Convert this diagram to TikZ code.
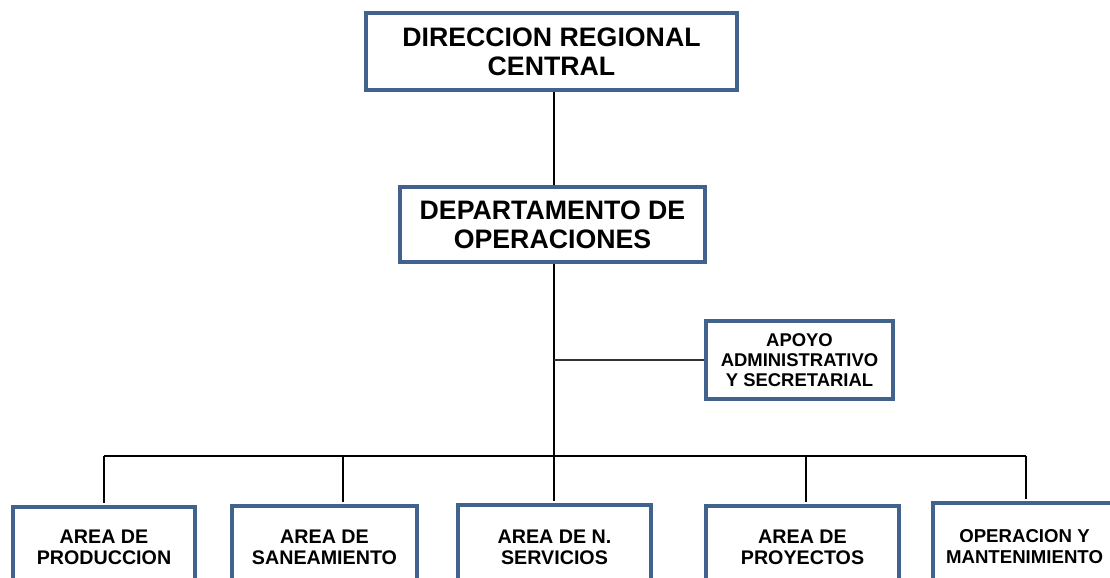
\documentclass[tikz,border=0pt]{standalone}
\usepackage{fontspec}
\setmainfont{Liberation Sans}
\usetikzlibrary{positioning}
\definecolor{boxblue}{RGB}{65,98,140}

\begin{document}
\begin{tikzpicture}[unit/.style={draw=boxblue, line width=2.2pt, fill=white, align=center, inner sep=0pt},
  head/.style={unit, font=\bfseries\fontsize{15.2}{16.5}\selectfont},
  staff/.style={unit, font=\bfseries\fontsize{10.5}{11.4}\selectfont},
  area/.style={unit, font=\bfseries\fontsize{11.2}{12}\selectfont},
  link/.style={line width=0.7pt},
  bus/.style={line width=1.2pt}]
  \clip (0,0) rectangle (22.2,11.56);
  \node[head, minimum width=7.42cm, minimum height=1.54cm] (dir) at (11.03,10.53) {DIRECCION REGIONAL\\CENTRAL};
  \node[head, minimum width=6.1cm, minimum height=1.5cm] (dept) at (11.05,7.07) {DEPARTAMENTO DE\\OPERACIONES};
  \node[staff, minimum width=3.74cm, minimum height=1.56cm] (apoyo) at (15.99,4.36) {APOYO\\ADMINISTRATIVO\\Y SECRETARIAL};
  % areas
  \node[area, minimum width=3.64cm, minimum height=1.6cm] (a1) at (2.08,0.62) {AREA DE\\PRODUCCION};
  \node[area, minimum width=3.7cm, minimum height=1.64cm] (a2) at (6.49,0.62) {AREA DE\\SANEAMIENTO};
  \node[area, minimum width=3.86cm, minimum height=1.68cm] (a3) at (11.09,0.62) {AREA DE N.\\SERVICIOS};
  \node[area, minimum width=3.86cm, minimum height=1.64cm] (a4) at (16.05,0.62) {AREA DE\\PROYECTOS};
  \node[area, font=\bfseries\fontsize{10.6}{12}\selectfont, minimum width=3.66cm, minimum height=1.76cm] (a5) at (20.49,0.62) {OPERACION Y\\MANTENIMIENTO};
  \coordinate (trunk) at (11.08,0);
  \coordinate (b1) at (2.08,2.44);
  \coordinate (b2) at (6.86,2.44);
  \coordinate (b3) at (11.08,2.44);
  \coordinate (b4) at (16.12,2.44);
  \coordinate (b5) at (20.52,2.44);
  \draw[link] (dir.south -| trunk) -- (dept.north -| trunk);
  \draw[link] (dept.south -| trunk) -- (b3);
  \draw[link, draw=black!80] (apoyo.west -| trunk) -- (apoyo.west);
  \draw[bus] (b1) -- (b5);
  \foreach \i in {1,...,5}
    \draw[bus, shorten >=0.05cm] (b\i) -- (b\i |- a\i.north);
\end{tikzpicture}
\end{document}
